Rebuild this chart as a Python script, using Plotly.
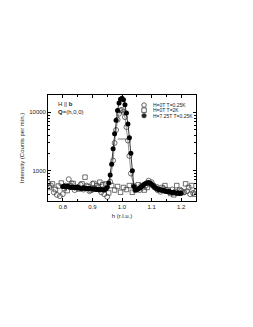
import plotly.graph_objects as go

# ---------------- data ----------------
h_field = [0.800, 0.805, 0.810, 0.815, 0.820, 0.825, 0.830, 0.835, 0.840, 0.845,
           0.850, 0.855, 0.860, 0.865, 0.870, 0.875, 0.880, 0.885, 0.890, 0.895,
           0.900, 0.905, 0.910, 0.915, 0.920, 0.925, 0.930, 0.935, 0.940, 0.945,
           0.950, 0.955, 0.960, 0.965, 0.970, 0.975, 0.980, 0.985, 0.990, 0.995,
           1.000, 1.005, 1.010, 1.015, 1.020, 1.025, 1.030, 1.035, 1.040, 1.045,
           1.050, 1.055, 1.060, 1.065, 1.070, 1.075, 1.080, 1.085, 1.090, 1.095,
           1.100, 1.105, 1.110, 1.115, 1.120, 1.125, 1.130, 1.135, 1.140, 1.145,
           1.150, 1.155, 1.160, 1.165, 1.170, 1.175, 1.180, 1.185, 1.190, 1.195, 1.200]
I_field = [540, 550, 530, 545, 535, 520, 530, 525, 515, 520,
           530, 510, 505, 500, 515, 500, 505, 495, 500, 490,
           495, 485, 490, 480, 485, 470, 480, 475, 470, 490,
           520, 620, 850, 1300, 2400, 4300, 7300, 10800, 14500, 16800,
           17500, 16500, 13500, 9800, 6300, 3700, 2000, 1000, 540, 470,
           480, 490, 510, 535, 560, 590, 610, 625, 630, 615,
           590, 560, 530, 505, 490, 480, 470, 465, 460, 450,
           445, 440, 445, 430, 425, 430, 420, 415, 420, 410, 415]

h_zero_low = [0.750, 0.760, 0.770, 0.780, 0.790, 0.800, 0.810, 0.820, 0.830, 0.840,
              0.850, 0.860, 0.870, 0.880, 0.890, 0.900, 0.910, 0.920, 0.930, 0.940,
              0.950, 0.960, 0.970, 0.975, 0.980, 0.985, 0.990, 0.995, 1.000, 1.005,
              1.010, 1.015, 1.020, 1.025, 1.030, 1.040, 1.050, 1.060, 1.070, 1.080,
              1.090, 1.100, 1.110, 1.120, 1.130, 1.140, 1.150, 1.160, 1.170, 1.180,
              1.190, 1.200, 1.210, 1.220, 1.230, 1.240, 1.250]
I_zero_low = [620, 560, 430, 390, 370, 400, 560, 720, 610, 470,
              520, 580, 480, 560, 450, 600, 490, 520, 430, 400,
              360, 650, 1500, 3000, 5000, 7500, 9500, 10800, 11000, 10200,
              8300, 5600, 3300, 1800, 900, 560, 500, 470, 520, 560,
              680, 640, 520, 470, 440, 500, 470, 430, 480, 440,
              420, 460, 430, 450, 400, 420, 440]

h_zero_2K = [0.755, 0.765, 0.775, 0.785, 0.795, 0.805, 0.815, 0.825, 0.835, 0.845,
             0.855, 0.865, 0.875, 0.885, 0.895, 0.905, 0.915, 0.925, 0.935, 0.945,
             0.955, 0.965, 0.975, 0.985, 0.995, 1.005, 1.015, 1.025, 1.035, 1.045,
             1.055, 1.065, 1.075, 1.085, 1.095, 1.105, 1.115, 1.125, 1.135, 1.145,
             1.155, 1.165, 1.175, 1.185, 1.195, 1.205, 1.215, 1.225, 1.235, 1.245]
I_zero_2K = [520, 600, 480, 550, 620, 500, 460, 560, 610, 520,
             490, 600, 780, 540, 470, 610, 560, 640, 580, 600,
             420, 560, 470, 540, 430, 520, 480, 560, 430, 470,
             580, 550, 470, 520, 600, 560, 530, 480, 520, 560,
             470, 410, 390, 560, 470, 430, 600, 520, 560, 400]

res_h = [0.985, 1.022]
res_I = [3500, 3500]

legend_labels = ["H=0T T=0.25K", "H=0T T=2K", "H=7.25T T=0.25K"]

# ---------------- figure ----------------
FONT = "Arial, Liberation Sans, sans-serif"
fig = go.Figure()

peak_idx = [i for i, x in enumerate(h_zero_low) if 0.96 <= x <= 1.04]
fig.add_trace(go.Scatter(x=[h_zero_low[i] for i in peak_idx],
                         y=[I_zero_low[i] for i in peak_idx],
                         mode="lines", line=dict(color="#777", width=0.8),
                         showlegend=False, hoverinfo="skip"))
fig.add_trace(go.Scatter(x=h_zero_2K, y=I_zero_2K, mode="markers",
                         marker=dict(symbol="square-open", size=4.5, color="#333",
                                     line=dict(width=0.7)),
                         showlegend=False))
fig.add_trace(go.Scatter(x=h_zero_low, y=I_zero_low, mode="markers",
                         marker=dict(symbol="circle-open", size=5, color="#333",
                                     line=dict(width=0.7)),
                         showlegend=False))
fig.add_trace(go.Scatter(x=h_field, y=I_field, mode="lines+markers",
                         line=dict(color="#222", width=0.9),
                         marker=dict(symbol="circle", size=5, color="black"),
                         showlegend=False))
fig.add_trace(go.Scatter(x=res_h, y=res_I, mode="lines",
                         line=dict(color="#555", width=0.8),
                         showlegend=False, hoverinfo="skip"))

# legend drawn on a hidden overlay axis
leg_y = [0.905, 0.857, 0.805]
leg_sym = ["circle-open", "square-open", "circle"]
for yy, sym, lab in zip(leg_y, leg_sym, legend_labels):
    fig.add_trace(go.Scatter(x=[0.649], y=[yy], xaxis="x2", yaxis="y2",
                             mode="markers",
                             marker=dict(symbol=sym, size=4.5, color="#222",
                                         line=dict(width=0.7)),
                             showlegend=False, hoverinfo="skip"))
    fig.add_annotation(x=0.695, y=yy, xref="paper", yref="paper", text=lab,
                       showarrow=False, xanchor="left", yanchor="middle",
                       font=dict(size=5, family=FONT, color="#222"))

fig.add_annotation(x=0.055, y=0.915, xref="paper", yref="paper",
                   text="H || <b>b</b>", showarrow=False, xanchor="left",
                   yanchor="middle", font=dict(size=6, family=FONT, color="#222"))
fig.add_annotation(x=0.055, y=0.835, xref="paper", yref="paper",
                   text="<b>Q</b>=(h,0,0)", showarrow=False, xanchor="left",
                   yanchor="middle", font=dict(size=6, family=FONT, color="#222"))

axis_common = dict(showline=True, linecolor="black", linewidth=0.8, mirror="ticks",
                   ticks="inside", ticklen=3, tickwidth=0.7, tickcolor="black",
                   showgrid=False, zeroline=False,
                   tickfont=dict(size=6, family=FONT, color="#222"))

fig.update_layout(
    width=253, height=327,
    margin=dict(l=40, r=65, t=87, b=134),
    paper_bgcolor="white", plot_bgcolor="white",
    showlegend=False,
    xaxis=dict(range=[0.75, 1.25], tickvals=[0.8, 0.9, 1.0, 1.1, 1.2],
               ticktext=["0.8", "0.9", "1.0", "1.1", "1.2"],
               minor=dict(tickvals=[0.75, 0.85, 0.95, 1.05, 1.15, 1.25],
                          ticks="inside", ticklen=2, tickcolor="black"),
               title=dict(text="h (r.l.u.)", standoff=4,
                          font=dict(size=6, family=FONT, color="#222")),
               **axis_common),
    yaxis=dict(type="log", range=[2.485, 4.297], tickvals=[1000, 10000],
               ticktext=["1000", "10000"],
               minor=dict(tickvals=[400, 500, 600, 700, 800, 900,
                                    2000, 3000, 4000, 5000, 6000, 7000, 8000, 9000],
                          ticks="inside", ticklen=2, tickcolor="black"),
               title=dict(text="Intensity (Counts per min.)", standoff=4,
                          font=dict(size=6, family=FONT, color="#222")),
               **axis_common),
    xaxis2=dict(range=[0, 1], overlaying="x", visible=False, domain=[0, 1]),
    yaxis2=dict(range=[0, 1], overlaying="y", visible=False),
)

fig.write_html("out.html")
